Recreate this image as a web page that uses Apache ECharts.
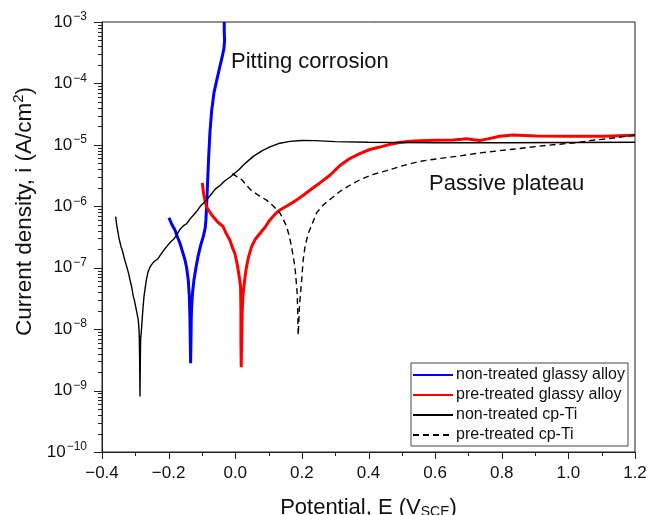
<!DOCTYPE html>
<html>
<head>
<meta charset="utf-8">
<script src="https://cdn.jsdelivr.net/npm/echarts@6/dist/echarts.min.js"></script>
<style>
html,body{margin:0;padding:0;background:#fff;}
#chart{width:649px;height:515px;}
</style>
</head>
<body>
<div id="chart"></div>
<script>
// ---------- DATA ----------
const seriesNames = ['non-treated glassy alloy', 'pre-treated glassy alloy', 'non-treated cp-Ti', 'pre-treated cp-Ti'];

// non-treated glassy alloy (blue)
const ntGlassyE = [-0.199,-0.190,-0.181,-0.173,-0.166,-0.158,-0.151,-0.146,-0.141,-0.138,-0.136,-0.135,-0.134,-0.133,-0.132,-0.131,-0.128,-0.124,-0.118,-0.112,-0.104,-0.096,-0.090,-0.088,-0.087,-0.086,-0.083,-0.080,-0.076,-0.071,-0.064,-0.056,-0.047,-0.040,-0.034,-0.032,-0.033,-0.033];
const ntGlassyI = [6.5e-7,5.0e-7,4.1e-7,3.1e-7,2.5e-7,1.8e-7,1.35e-7,1.0e-7,6.3e-8,3.5e-8,1.5e-8,6e-9,2.8e-9,6e-9,1.5e-8,2.3e-8,4e-8,6.3e-8,1.0e-7,1.5e-7,2.3e-7,3.2e-7,4.5e-7,6.0e-7,7.8e-7,1.0e-6,2.5e-6,6e-6,1.6e-5,3.5e-5,7e-5,1.1e-4,1.8e-4,2.6e-4,3.7e-4,5e-4,7e-4,1e-3];

// pre-treated glassy alloy (red)
const ptGlassyE = [-0.099,-0.095,-0.091,-0.087,-0.078,-0.067,-0.052,-0.037,-0.027,-0.016,-0.008,-0.001,0.005,0.009,0.013,0.016,0.017,0.017,0.018,0.019,0.021,0.023,0.026,0.030,0.034,0.040,0.049,0.060,0.074,0.090,0.104,0.120,0.134,0.160,0.184,0.210,0.234,0.254,0.284,0.314,0.344,0.374,0.404,0.434,0.464,0.494,0.524,0.554,0.600,0.654,0.680,0.694,0.715,0.734,0.755,0.794,0.834,0.904,1.004,1.104,1.200];
const ptGlassyI = [2.4e-6,1.6e-6,1.26e-6,1.0e-6,8.3e-7,6.8e-7,5.5e-7,4.7e-7,3.6e-7,2.8e-7,2.1e-7,1.7e-7,1.2e-7,9e-8,6.5e-8,4.9e-8,2e-8,6.6e-9,2.4e-9,6.6e-9,2.0e-8,3.5e-8,4.9e-8,7.5e-8,1.05e-7,1.5e-7,2.2e-7,2.9e-7,3.6e-7,4.6e-7,6.0e-7,7.5e-7,8.7e-7,1.05e-6,1.26e-6,1.6e-6,2.0e-6,2.4e-6,3.2e-6,4.6e-6,6.0e-6,7.2e-6,8.4e-6,9.2e-6,1.02e-5,1.09e-5,1.14e-5,1.17e-5,1.19e-5,1.2e-5,1.23e-5,1.26e-5,1.21e-5,1.18e-5,1.24e-5,1.38e-5,1.45e-5,1.40e-5,1.38e-5,1.38e-5,1.43e-5];

// non-treated cp-Ti (black solid)
const ntTiE = [-0.359,-0.356,-0.352,-0.349,-0.346,-0.343,-0.340,-0.336,-0.331,-0.326,-0.320,-0.315,-0.311,-0.306,-0.303,-0.298,-0.294,-0.291,-0.289,-0.288,-0.287,-0.286,-0.285,-0.284,-0.282,-0.280,-0.277,-0.274,-0.271,-0.267,-0.262,-0.255,-0.247,-0.240,-0.232,-0.225,-0.217,-0.206,-0.195,-0.185,-0.176,-0.166,-0.156,-0.146,-0.135,-0.125,-0.116,-0.105,-0.096,-0.087,-0.075,-0.060,-0.045,-0.031,-0.015,-0.006,0.010,0.030,0.054,0.080,0.104,0.130,0.164,0.200,0.240,0.300,0.400,0.600,0.800,1.000,1.200];
const ntTiI = [6.8e-7,5.0e-7,3.8e-7,3.0e-7,2.6e-7,2.2e-7,2.0e-7,1.9e-7,1.3e-7,1.05e-7,8e-8,6e-8,4.9e-8,3.4e-8,3.0e-8,2.2e-8,1.7e-8,1.4e-8,1.0e-8,7.4e-9,3e-9,8e-10,3e-9,7e-9,9e-9,1.3e-8,2.2e-8,3.4e-8,4.4e-8,6.3e-8,8.5e-8,1.05e-7,1.2e-7,1.3e-7,1.4e-7,1.6e-7,1.85e-7,2.2e-7,2.6e-7,2.9e-7,3.4e-7,4.2e-7,4.8e-7,5.2e-7,6.3e-7,7.2e-7,8.2e-7,1.0e-6,1.12e-6,1.26e-6,1.5e-6,1.9e-6,2.2e-6,2.6e-6,3.0e-6,3.3e-6,3.9e-6,5.0e-6,6.5e-6,8.0e-6,9.3e-6,1.05e-5,1.14e-5,1.18e-5,1.17e-5,1.13e-5,1.1e-5,1.08e-5,1.08e-5,1.09e-5,1.1e-5];

// pre-treated cp-Ti (black dashed)
const ptTiE = [-0.009,0.020,0.044,0.070,0.094,0.115,0.134,0.145,0.154,0.162,0.169,0.175,0.179,0.183,0.186,0.188,0.189,0.193,0.196,0.200,0.204,0.210,0.219,0.230,0.244,0.264,0.289,0.314,0.344,0.374,0.414,0.454,0.504,0.554,0.614,0.674,0.734,0.834,0.934,1.034,1.064,1.134,1.200];
const ptTiI = [3.4e-6,2.7e-6,1.9e-6,1.5e-6,1.26e-6,1.0e-6,7.8e-7,6.0e-7,4.7e-7,3.3e-7,2.2e-7,1.4e-7,1.05e-7,6e-8,3.8e-8,1.5e-8,8e-9,2.5e-8,3.8e-8,7e-8,1.35e-7,2.3e-7,3.6e-7,5.0e-7,7.8e-7,1.05e-6,1.35e-6,1.74e-6,2.2e-6,2.7e-6,3.3e-6,3.8e-6,4.6e-6,5.4e-6,6.0e-6,6.6e-6,7.4e-6,8.5e-6,9.8e-6,1.1e-5,1.17e-5,1.29e-5,1.45e-5];

// axes and tick values
const xMin = -0.4, xMax = 1.2, xStep = 0.2;
const yMin = 1e-10, yMax = 1e-3;
const xMajorTicks = [-0.4, -0.2, 0.0, 0.2, 0.4, 0.6, 0.8, 1.0, 1.2];
const xMinorTicks = [-0.3, -0.1, 0.1, 0.3, 0.5, 0.7, 0.9, 1.1];
const yMajorTicks = [1e-10, 1e-9, 1e-8, 1e-7, 1e-6, 1e-5, 1e-4, 1e-3];
const yMinorTicks = [];
for (let e = -10; e < -3; e++) for (let m = 2; m <= 9; m++) yMinorTicks.push(m * Math.pow(10, e));

const annotations = ['Pitting corrosion', 'Passive plateau'];

// ---------- CHART ----------
const FONT = '"Liberation Sans", Arial, sans-serif';
const zip = (xs, ys) => xs.map((x, i) => [x, ys[i]]);

const chart = echarts.init(document.getElementById('chart'));

const baseSeries = (name, data, color, width, type) => ({
  name, type: 'line', data, showSymbol: false, symbol: 'none',
  lineStyle: {color, width, type: type || 'solid'},
  itemStyle: {color}
});

const textGraphics = [
  {type: 'text', left: 231, top: 51, silent: true,
   style: {text: annotations[0], font: '22px ' + FONT, fill: '#111'}},
  {type: 'text', left: 429, top: 173, silent: true,
   style: {text: annotations[1], font: '22px ' + FONT, fill: '#111'}},
  {type: 'text', x: 24.5, y: 211.5, rotation: Math.PI / 2, silent: true,
   style: {text: '{t|Current density, i (A/cm}{p|2}{t|)}', align: 'center', verticalAlign: 'middle',
     rich: {t: {fontFamily: FONT, fontSize: 22.5, fill: '#111'},
            p: {fontFamily: FONT, fontSize: 15, fill: '#111', padding: [0, 0, 11, 0]}}}}
];

chart.setOption({
  animation: false,
  grid: {left: 102, right: 14, top: 22, bottom: 63, outerBoundsMode: 'none',
         show: true, borderColor: '#222', borderWidth: 1, backgroundColor: 'transparent'},
  xAxis: {
    type: 'value', min: xMin, max: xMax, interval: xStep,
    axisLine: {show: true, onZero: false, lineStyle: {color: '#222', width: 1}},
    axisTick: {show: false},
    minorTick: {show: false},
    splitLine: {show: false},
    axisLabel: {fontFamily: FONT, fontSize: 17, color: '#111', margin: 13,
      formatter: v => v.toFixed(1).replace('-', '\u2212')},
    name: '{t|Potential, E (V}{s|SCE}{t|)}',
    nameLocation: 'middle', nameGap: 44,
    nameTextStyle: {fontFamily: FONT, color: '#111',
      rich: {t: {fontFamily: FONT, fontSize: 22, color: '#111'},
             s: {fontFamily: FONT, fontSize: 14, color: '#111', padding: [9, 0, 0, 0]}}}
  },
  yAxis: {
    type: 'log', min: yMin, max: yMax,
    axisLine: {show: true, onZero: false, lineStyle: {color: '#222', width: 1}},
    axisTick: {show: false},
    splitLine: {show: false},
    minorTick: {show: false},
    axisLabel: {fontFamily: FONT, color: '#111', margin: 15,
      formatter: v => '{b|10}{s|\u2212' + Math.round(-Math.log10(v)) + '}',
      rich: {b: {fontFamily: FONT, fontSize: 17, color: '#111'},
             s: {fontFamily: FONT, fontSize: 12, color: '#111', padding: [0, 0, 10, 1]}}}
  },
  legend: {
    left: 411, top: 363, orient: 'vertical',
    itemWidth: 40, itemHeight: 14, itemGap: 4,
    padding: [4, 3, 3, 1],
    borderColor: '#444', borderWidth: 1, backgroundColor: '#fff',
    itemStyle: {opacity: 0},
    textStyle: {fontFamily: FONT, fontSize: 16, color: '#111', padding: [0, 0, 0, -2]},
    data: seriesNames,
    selectedMode: false
  },
  graphic: textGraphics,
  series: [
    baseSeries(seriesNames[0], zip(ntGlassyE, ntGlassyI), '#0000ff', 3),
    baseSeries(seriesNames[1], zip(ptGlassyE, ptGlassyI), '#ff0000', 3),
    baseSeries(seriesNames[2], zip(ntTiE, ntTiI), '#000000', 1.4),
    baseSeries(seriesNames[3], zip(ptTiE, ptTiI), '#000000', 1.4, [6, 4])
  ]
});

// tick marks, placed through the chart's own axis scales
const toPx = v => chart.convertToPixel({gridIndex: 0}, v);
const tickEls = [];
const addXTick = (v, len) => {
  const p = toPx([v, yMin]);
  const x = Math.round(p[0]) + 0.5;
  tickEls.push({type: 'line', silent: true, z: 100,
    shape: {x1: x, y1: p[1], x2: x, y2: p[1] + len}, style: {stroke: '#222', lineWidth: 1}});
};
const addYTick = (v, len) => {
  const p = toPx([xMin, v]);
  const y = Math.round(p[1]) + 0.5;
  tickEls.push({type: 'line', silent: true, z: 100,
    shape: {x1: p[0] - len, y1: y, x2: p[0], y2: y}, style: {stroke: '#222', lineWidth: 1}});
};
xMajorTicks.forEach(v => addXTick(v, 7));
xMinorTicks.forEach(v => addXTick(v, 4));
yMajorTicks.forEach(v => addYTick(v, 8));
yMinorTicks.forEach(v => addYTick(v, 4));

chart.setOption({graphic: textGraphics.concat(tickEls)});
</script>
</body>
</html>
